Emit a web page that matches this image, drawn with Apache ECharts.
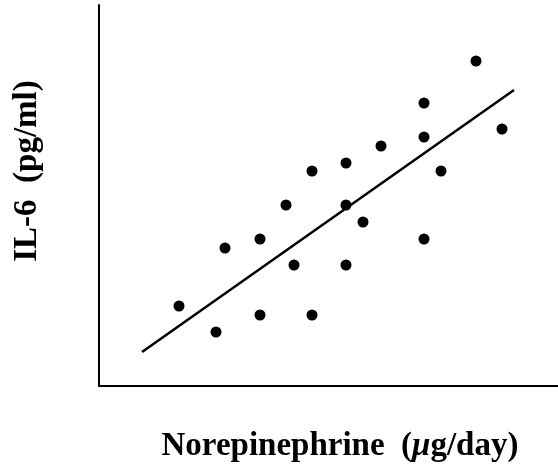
<!DOCTYPE html>
<html>
<head>
<meta charset="utf-8">
<script src="https://cdn.jsdelivr.net/npm/echarts@6/dist/echarts.min.js"></script>
<style>
  html, body { margin: 0; padding: 0; background: #fff; }
  #chart { width: 558px; height: 464px; }
</style>
</head>
<body>
<div id="chart"></div>
<script>
// norepinephrine (arbitrary units, no ticks shown)
var noreX = [80, 117, 126, 161, 161, 187, 195, 213, 213, 247, 247, 247, 264, 282, 325, 325, 325, 342, 377, 403];
// IL-6 (arbitrary units)
var il6Y = [80, 54, 138, 147, 71, 181, 121, 215, 71, 223, 181, 121, 164, 240, 283, 249, 147, 215, 325, 257];
// regression line end points
var fitX = [43, 415];
var fitY = [34, 296];

var points = noreX.map(function (x, i) { return [x, il6Y[i]]; });
var fitLine = fitX.map(function (x, i) { return [x, fitY[i]]; });

var chart = echarts.init(document.getElementById('chart'));
var axisStyle = { lineStyle: { color: '#000', width: 2 } };

chart.setOption({
  backgroundColor: '#ffffff',
  animation: false,
  grid: { left: 99, right: 0, top: 5, bottom: 78 },
  xAxis: {
    type: 'value',
    min: 0,
    max: 459,
    axisLine: axisStyle,
    axisTick: { show: false },
    axisLabel: { show: false },
    splitLine: { show: false }
  },
  yAxis: {
    type: 'value',
    min: 0,
    max: 381,
    axisLine: Object.assign({ show: true }, axisStyle),
    axisTick: { show: false },
    axisLabel: { show: false },
    splitLine: { show: false }
  },
  graphic: [
    {
      type: 'text',
      x: 340,
      y: 446,
      style: {
        text: '{b|Norepinephrine  (}{i|μ}{b|g/day)}',
        align: 'center',
        verticalAlign: 'middle',
        rich: {
          b: { fontFamily: 'Liberation Serif', fontWeight: 'bold', fontSize: 33, fill: '#000' },
          i: { fontFamily: 'Liberation Serif', fontWeight: 'bold', fontStyle: 'italic', fontSize: 33, fill: '#000' }
        }
      }
    },
    {
      type: 'text',
      x: 27,
      y: 171,
      rotation: Math.PI / 2,
      style: {
        text: 'IL-6  (pg/ml)',
        align: 'center',
        verticalAlign: 'middle',
        fontFamily: 'Liberation Serif',
        fontWeight: 'bold',
        fontSize: 33,
        fill: '#000'
      }
    }
  ],
  series: [
    {
      type: 'scatter',
      data: points,
      symbolSize: 11,
      itemStyle: { color: '#000', opacity: 1 }
    },
    {
      type: 'line',
      data: fitLine,
      symbol: 'none',
      lineStyle: { color: '#000', width: 2.5 }
    }
  ]
});
</script>
</body>
</html>
